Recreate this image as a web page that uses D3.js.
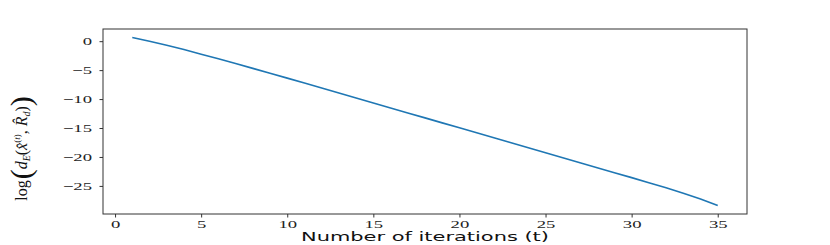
<!DOCTYPE html>
<head>
<meta charset="UTF-8">
<title>Log distance vs number of iterations</title>
<style>
body { margin: 0; background: #fff; }
.tick text { font-family: "Liberation Serif", serif; font-size: 11px; fill: #222; }
.domain, .tick line { stroke: #333; }
.frame { fill: none; stroke: #333; stroke-width: 1; }
.line { fill: none; stroke: #1f77b4; stroke-width: 1.6px; }
.xlabel { font-family: "DejaVu Sans", sans-serif; font-size: 13px; fill: #111; }
.ylabel { font-family: "Liberation Serif", serif; font-size: 16px; fill: #111; }
</style>
<body>
<script src="https://cdn.jsdelivr.net/npm/d3@7/dist/d3.min.js"></script>
<script>

// iteration index t
var iterations = [1, 2, 3, 4, 5, 6, 7, 8, 9, 10, 11, 12, 13, 14, 15, 16, 17, 18,
                  19, 20, 21, 22, 23, 24, 25, 26, 27, 28, 29, 30, 31, 32, 33, 34, 35];
// log distance
var logDistance = [0.65, 0.0, -0.7, -1.45, -2.25, -3.05, -3.87, -4.7, -5.54, -6.38,
                   -7.23, -8.09, -8.95, -9.81, -10.67, -11.53, -12.39, -13.25, -14.11,
                   -14.97, -15.83, -16.69, -17.55, -18.41, -19.27, -20.13, -20.99,
                   -21.85, -22.71, -23.57, -24.44, -25.33, -26.25, -27.25, -28.4];
var xTicks = [0, 5, 10, 15, 20, 25, 30, 35];
var yTicks = [0, -5, -10, -15, -20, -25];

var margin = {top: 29, right: 83, bottom: 31, left: 103},
    width = 830 - margin.left - margin.right,
    height = 245 - margin.top - margin.bottom;

var svg = d3.select("body").append("svg")
    .attr("width", 830)
    .attr("height", 245)
  .append("g")
    .attr("transform", "translate(" + margin.left + "," + margin.top + ")");

// matplotlib style 5% padding around the data
var xExt = d3.extent(iterations), yExt = d3.extent(logDistance);
var xPad = (xExt[1] - xExt[0]) * 0.05, yPad = (yExt[1] - yExt[0]) * 0.05;

var x = d3.scaleLinear().domain([xExt[0] - xPad, xExt[1] + xPad]).range([0, width]);
var y = d3.scaleLinear().domain([yExt[0] - yPad, yExt[1] + yPad]).range([height, 0]);

// axes
var xAxis = svg.append("g")
    .attr("transform", "translate(0," + height + ")")
    .call(d3.axisBottom(x).tickValues(xTicks).tickSize(3.5).tickPadding(3).tickSizeOuter(0));
xAxis.selectAll(".tick text")
    .attr("transform", "scale(1.7,1)");

var yAxis = svg.append("g")
    .call(d3.axisLeft(y).tickValues(yTicks).tickSize(3.5).tickSizeOuter(0));
yAxis.selectAll(".tick text")
    .attr("x", 0)
    .attr("transform", "translate(-11,0) scale(1.7,1)");

svg.selectAll(".domain").remove();

// frame
svg.append("rect")
    .attr("class", "frame")
    .attr("x", 0).attr("y", 0)
    .attr("width", width).attr("height", height);

// the line
var line = d3.line()
    .x(function(d, i) { return x(iterations[i]); })
    .y(function(d) { return y(d); });

svg.append("path")
    .datum(logDistance)
    .attr("class", "line")
    .attr("d", line);

// x label
svg.append("text")
    .attr("class", "xlabel")
    .attr("x", width / 2)
    .attr("y", height + 27)
    .attr("text-anchor", "middle")
    .attr("textLength", 248)
    .attr("lengthAdjust", "spacingAndGlyphs")
    .text("Number of iterations (t)");

// y label: log( d_E( x^(t), R_d ) )
var yl = svg.append("text")
    .attr("class", "ylabel")
    .attr("transform", "translate(" + (-76) + "," + (height / 2 + 27) + ") rotate(-90)")
    .attr("text-anchor", "middle");
yl.append("tspan").text("log");
yl.append("tspan").attr("font-size", "30px").attr("dy", 4).attr("dx", 1).text("(");
yl.append("tspan").attr("font-style", "italic").attr("dy", -4).text("d");
yl.append("tspan").attr("font-style", "italic").attr("font-size", "10px").attr("dy", 3).text("E");
yl.append("tspan").attr("dy", -3).text("(");
yl.append("tspan").attr("font-style", "italic").text("x\u0302");
yl.append("tspan").attr("font-size", "9px").attr("dy", -7).text("(");
yl.append("tspan").attr("font-size", "9px").attr("font-style", "italic").text("t");
yl.append("tspan").attr("font-size", "9px").text(")");
yl.append("tspan").attr("dy", 7).text(", ");
yl.append("tspan").attr("font-style", "italic").text("R\u0302");
yl.append("tspan").attr("font-style", "italic").attr("font-size", "10px").attr("dy", 3).text("d");
yl.append("tspan").attr("dy", -3).text(")");
yl.append("tspan").attr("font-size", "30px").attr("dy", 4).text(")");

</script>
</body>
